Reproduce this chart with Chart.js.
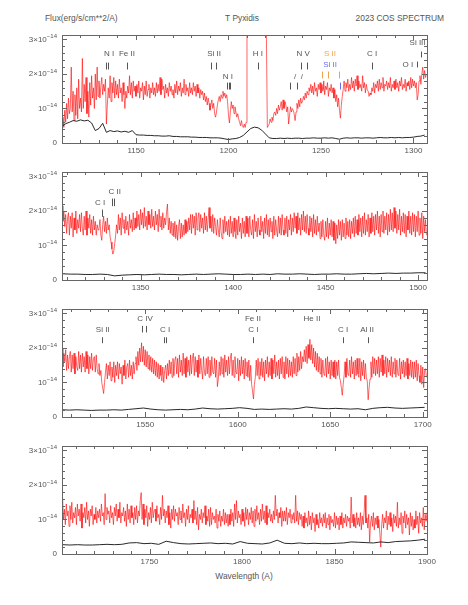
<!DOCTYPE html>
<html lang="en">
<head>
<meta charset="UTF-8">
<title>T Pyxidis</title>
<script src="https://cdn.jsdelivr.net/npm/chart.js"></script>
<style>
    body { margin: 0; background: #fff; }
    #wrap { position: relative; width: 468px; height: 605px; font-family: "Liberation Sans", Arial, sans-serif; color: #555; font-size: 8.4px; }
    .t { position: absolute; white-space: nowrap; line-height: 10px; }
    canvas { position: absolute; left: 0; }
</style>
</head>
<body>
<div id="wrap">
    <div class="t" style="left:45px;top:13px">Flux(erg/s/cm**2/A)</div>
    <div class="t" style="left:242px;top:13px;transform:translateX(-50%)">T Pyxidis</div>
    <div class="t" style="right:24px;top:13px">2023 COS SPECTRUM</div>
    <div class="t" style="left:244px;top:571px;transform:translateX(-50%)">Wavelength (A)</div>
    <canvas id="c0" width="468" height="133" style="top:30px"></canvas>
    <canvas id="c1" width="468" height="133" style="top:167px"></canvas>
    <canvas id="c2" width="468" height="133" style="top:304px"></canvas>
    <canvas id="c3" width="468" height="133" style="top:441px"></canvas>
</div>
<script>
// wavelength range of each panel (A)
var panelMin = [1110, 1307.5, 1505, 1702.7];
var panelMax = [1307.3, 1504.8, 1702.3, 1900];

// flux in units of 1e-14 erg/s/cm2/A, sampled every 0.5 A (one row = 10 A)
var fluxStart = [1110, 1307.5, 1505, 1703];
var fluxStep = 0.5;
var flux1 = [
    0.5,0.75,0.45,0.95,0.6,1.15,0.7,1.3,0.85,1.0,2.2,0.9,1.5,0.65,1.4,0.8,1.6,0.7,1.85,1.0,
    1.3,0.9,2.45,1.0,1.7,1.2,1.9,0.85,1.5,0.75,1.75,1.1,1.95,1.3,1.6,1.0,2.0,1.25,2.2,1.35,
    1.8,1.3,1.65,1.9,1.4,1.7,1.5,1.85,0.55,1.1,1.6,1.3,1.95,1.2,1.75,1.45,1.9,1.3,1.8,1.4,
    1.7,1.3,1.85,1.45,1.6,1.2,1.75,1.4,1.0,1.5,1.3,1.65,1.45,1.95,1.4,1.75,1.3,1.8,1.5,1.65,
    1.35,1.7,1.45,1.8,1.3,1.6,1.5,1.75,1.25,1.65,1.4,1.8,1.35,1.55,1.7,1.3,1.6,1.45,1.75,1.4,
    1.6,1.35,1.75,1.45,1.7,1.5,1.9,1.4,1.85,1.55,1.65,1.3,1.7,1.45,1.6,1.35,1.75,1.5,1.65,1.4,
    1.55,1.3,1.7,1.45,1.8,1.4,1.65,1.5,1.75,1.35,1.6,1.45,1.85,1.4,1.7,1.5,1.6,1.35,1.75,1.45,
    1.6,1.4,1.75,1.5,1.65,1.35,1.7,1.45,1.6,1.3,1.55,1.4,1.5,1.25,1.45,1.2,1.35,1.1,1.3,1.15,
    0.95,1.1,1.25,1.0,1.15,0.85,0.75,0.9,1.1,1.25,1.35,1.2,1.4,1.3,1.5,1.35,1.45,1.3,1.4,1.2,
    0.8,0.58,0.9,1.2,1.0,1.1,0.85,1.05,0.9,0.75,0.85,0.7,0.6,0.5,0.65,0.5,0.45,0.55,0.45,0.6,
    3.5,9,9,9,9,9,9,9,9,9,9,9,9,9,9,9,9,9,9,9,
    5,3,0.45,0.5,0.55,0.7,0.6,0.75,0.65,0.85,0.9,0.8,1.0,0.85,1.1,0.95,1.05,1.2,0.95,1.25,
    1.0,1.2,1.1,0.9,1.05,0.55,0.8,1.05,0.9,1.0,0.95,0.85,0.65,0.9,1.15,1.0,1.25,1.05,1.3,1.15,
    1.2,1.35,1.25,1.45,1.3,1.5,1.4,1.6,1.5,1.7,1.45,1.65,1.4,1.75,1.5,1.6,1.35,1.7,1.55,1.75,
    1.45,1.7,1.5,1.8,1.4,1.65,1.55,1.75,1.35,1.6,1.5,1.7,1.45,1.6,1.3,1.55,1.2,1.4,1.05,1.3,
    0.95,0.72,1.1,1.35,1.55,1.8,1.5,1.75,1.6,1.85,1.5,1.7,1.55,1.9,1.6,1.8,1.5,1.85,1.65,1.95,
    1.55,1.8,1.6,1.7,1.5,1.95,1.6,1.75,1.45,1.7,1.55,1.5,1.35,1.45,1.4,1.6,1.5,1.75,1.45,1.7,
    1.6,1.8,1.5,1.85,1.55,1.75,1.6,1.9,1.5,1.7,1.65,1.8,1.55,1.75,1.6,1.9,1.5,1.7,1.6,1.8,
    1.55,1.85,1.6,1.75,1.5,1.8,1.65,1.9,1.55,1.7,1.6,1.85,1.5,1.75,1.65,1.8,1.55,1.9,1.6,1.85,
    1.65,1.8,1.6,1.75,1.25,1.4,1.8,1.95,1.7,2.0,2.2,1.85,2.1,1.9,2.0
];
var flux2 = [
    2.15,1.7,2.0,1.55,1.9,1.35,1.8,1.95,1.3,1.85,1.5,1.95,1.25,1.8,1.45,2.0,1.35,1.75,1.5,1.9,
    1.4,1.95,1.5,1.3,1.85,1.45,2.0,1.3,1.8,1.5,1.9,1.35,1.75,1.3,1.85,1.45,1.7,1.3,1.6,1.45,
    1.5,1.75,1.3,1.15,1.6,1.85,1.4,1.7,1.35,1.8,1.45,1.6,1.25,1.1,0.9,0.75,0.85,1.05,1.3,1.6,
    1.35,1.9,1.45,1.8,1.3,1.95,1.5,1.75,1.35,1.85,1.45,1.7,1.3,1.9,1.5,1.75,1.4,1.95,1.45,1.8,
    1.5,2.0,1.55,1.9,1.45,2.05,1.6,1.95,1.5,2.1,1.55,1.85,1.45,2.0,1.6,1.9,1.5,2.05,1.55,1.85,
    1.45,2.0,1.6,1.9,1.4,2.05,1.55,1.85,1.45,1.95,1.5,1.8,1.6,1.95,2.2,1.45,1.8,1.35,1.7,1.3,
    1.65,1.25,1.7,1.2,1.6,1.15,1.55,1.75,1.2,1.65,1.25,1.6,1.3,1.75,1.35,1.7,1.4,1.8,1.45,1.9,
    1.35,1.9,1.5,1.85,1.3,1.95,1.45,1.8,1.95,1.4,1.9,1.5,1.8,1.35,1.95,1.45,1.85,1.4,1.75,2.1,
    1.5,1.85,1.4,1.9,1.35,1.8,1.55,1.3,1.75,1.45,1.25,1.8,1.4,1.2,1.75,1.35,1.85,1.4,1.7,1.3,
    1.75,1.25,1.85,1.35,1.7,1.25,1.8,1.4,1.2,1.75,1.3,1.85,1.4,1.65,1.2,1.8,1.35,1.7,1.25,1.85,
    1.35,1.8,1.25,1.85,1.45,1.3,1.75,1.2,1.9,1.4,1.7,1.25,1.8,1.45,1.3,1.85,1.4,1.7,1.2,1.8,
    1.35,1.9,1.3,1.75,1.25,1.8,1.4,1.7,1.2,1.85,1.3,1.75,1.45,1.25,1.85,1.35,1.8,1.3,1.9,1.45,
    1.3,1.8,1.35,1.85,1.25,1.75,1.45,1.9,1.3,1.8,1.4,1.95,1.5,1.85,1.35,1.95,1.45,1.8,1.3,1.9,
    1.45,2.0,1.4,1.85,1.35,1.9,1.5,1.3,1.85,1.4,1.8,1.25,1.9,1.35,1.75,1.3,1.85,1.4,1.65,1.2,
    1.7,1.25,1.75,1.3,1.15,1.7,1.25,1.8,1.2,1.65,1.3,1.75,1.25,1.7,1.15,1.65,1.05,1.6,1.2,1.75,
    1.3,1.7,1.15,1.75,1.25,1.65,1.2,1.8,1.3,1.7,1.25,1.75,1.2,1.7,1.35,1.8,1.25,1.85,1.35,1.75,
    1.3,1.9,1.4,1.8,1.25,1.85,1.35,1.95,1.3,1.75,1.4,1.9,1.25,1.8,1.35,1.95,1.4,1.85,1.3,1.9,
    1.45,2.0,1.35,1.85,1.25,1.9,1.4,2.0,1.35,1.85,1.45,1.95,1.3,1.9,1.4,2.05,1.45,1.95,1.4,2.1,
    1.5,2.0,1.35,1.9,1.45,2.05,1.3,1.85,1.4,1.95,1.35,1.9,1.25,1.85,1.45,2.0,1.35,1.85,1.3,1.95,
    1.4,1.9,1.25,1.85,1.4,2.0,1.3,1.8,1.35,1.95,1.2,1.85,1.4,1.75,1.3
];
var flux3 = [
    2.0,1.45,1.85,1.6,1.95,1.35,1.8,1.4,1.75,1.9,1.3,1.8,1.4,1.85,1.25,1.75,1.45,1.35,1.9,1.4,
    1.8,1.3,1.85,1.45,1.75,1.3,1.9,1.4,1.8,1.25,1.75,1.4,1.85,1.35,1.7,1.75,1.3,1.8,1.4,1.25,
    1.55,1.2,1.35,1.0,0.85,0.68,1.0,1.3,1.55,1.1,1.5,1.2,1.6,1.05,1.45,1.15,1.6,1.0,1.5,1.2,
    1.6,1.1,1.55,1.25,1.45,0.95,1.5,1.2,1.65,1.1,1.45,1.55,1.15,1.65,1.2,1.5,1.1,1.6,1.25,1.55,
    1.75,1.35,1.9,1.5,2.0,1.6,2.15,1.6,2.05,1.5,1.95,1.45,1.9,1.4,1.8,1.35,1.75,1.3,1.7,1.25,
    1.65,1.2,1.6,1.15,1.55,1.1,1.5,1.2,1.05,1.45,1.0,1.35,1.5,1.1,1.55,1.2,1.65,1.25,1.6,1.15,
    1.7,1.2,1.65,1.75,1.25,1.7,1.15,1.8,1.3,1.65,1.2,1.85,1.25,1.7,1.15,1.75,1.3,1.65,1.2,1.8,
    1.25,1.7,1.85,1.2,1.75,1.3,1.65,1.15,1.8,1.25,1.7,1.35,1.1,1.75,1.3,1.2,1.7,1.25,1.75,1.15,
    1.65,1.2,1.75,1.3,1.25,1.7,1.15,1.65,0.88,1.1,1.6,1.2,1.75,1.25,1.7,1.15,1.8,1.3,1.65,1.2,
    1.75,1.25,1.7,1.85,1.2,1.65,1.15,1.75,1.3,1.25,1.7,1.05,1.65,1.2,1.75,1.25,1.65,1.1,1.7,1.2,
    1.6,1.15,1.65,1.05,1.5,0.95,0.75,0.52,0.95,1.15,1.65,1.2,1.7,1.1,1.6,1.2,1.7,1.15,1.6,1.05,
    1.65,1.25,1.75,1.15,1.6,1.2,1.7,1.1,1.65,1.25,1.8,1.15,1.6,1.2,1.65,1.1,1.7,1.25,1.75,1.15,
    1.6,1.1,1.75,1.25,1.7,1.15,1.65,1.2,1.6,1.15,1.75,1.25,1.7,1.2,1.85,1.3,1.75,1.35,1.9,1.4,
    1.75,1.6,1.95,1.6,2.05,1.55,2.1,1.7,2.25,1.65,2.1,1.55,2.0,1.45,1.9,1.35,1.85,1.3,1.75,1.25,
    1.7,1.15,1.65,1.25,1.2,1.7,1.15,1.75,1.25,1.6,1.1,1.65,1.2,1.6,1.15,1.65,1.1,1.6,1.2,1.65,
    1.15,1.05,0.85,0.63,0.95,1.2,1.6,1.15,1.7,1.25,1.2,1.65,1.15,1.75,1.25,1.6,1.1,1.65,1.2,1.7,
    1.25,1.15,1.7,1.05,1.6,1.2,1.65,1.1,1.55,1.15,1.05,0.5,0.85,1.1,1.6,1.15,1.75,1.25,1.7,1.2,
    1.65,1.25,1.75,1.15,1.7,1.3,1.8,1.2,1.65,1.25,1.75,1.15,1.7,1.3,1.65,1.2,1.75,1.15,1.6,1.25,
    1.7,1.15,1.65,1.25,1.2,1.7,1.1,1.6,1.25,1.65,1.15,1.6,1.2,1.7,1.1,1.55,1.2,1.65,1.15,1.6,
    1.1,1.6,1.15,1.65,1.05,1.55,1.2,1.0,1.5,0.95,1.45,0.85,1.35,1.4,1.15
];
var flux4 = [
    1.65,1.0,1.3,0.85,1.45,1.1,1.25,0.8,1.4,1.0,1.5,0.9,1.2,1.05,1.35,0.85,1.45,1.1,1.3,0.95,
    1.45,0.75,1.2,1.05,1.35,0.9,1.5,1.0,1.25,0.8,1.3,1.1,1.4,0.85,1.15,1.0,1.35,0.9,1.25,1.05,
    1.3,0.95,1.45,1.1,1.2,0.85,1.75,1.0,1.35,1.15,1.25,0.9,1.4,1.05,1.2,0.85,1.35,1.1,1.45,0.95,
    1.3,1.05,1.5,0.9,1.2,1.1,1.35,0.95,1.25,0.8,1.45,1.0,1.3,0.9,1.4,1.05,1.2,0.85,1.35,1.0,
    1.4,0.9,1.25,1.1,1.55,1.78,1.0,1.45,0.85,1.3,1.05,1.4,0.8,1.2,1.0,1.35,0.9,1.5,1.05,1.25,
    1.3,0.95,1.4,1.05,1.15,0.85,1.35,1.0,1.7,1.1,1.3,0.9,1.25,1.05,1.4,0.85,1.2,0.75,1.3,1.0,
    1.4,0.95,1.3,1.1,1.2,0.85,1.35,1.0,1.25,0.9,1.45,1.05,1.2,0.8,1.3,1.0,1.4,0.9,1.15,1.05,
    1.3,0.9,1.55,1.0,1.25,0.85,1.35,0.7,1.15,1.0,1.3,0.9,1.2,1.05,1.4,0.85,1.1,0.95,1.3,0.8,
    1.35,0.85,1.2,1.0,1.1,0.9,1.3,0.75,1.15,0.95,1.25,0.8,1.1,0.95,1.3,0.85,1.2,0.9,1.15,0.8,
    1.15,0.85,1.3,0.95,1.2,0.8,1.45,1.0,1.55,0.9,1.25,1.05,1.15,0.85,1.3,0.95,1.2,0.8,1.35,1.0,
    1.3,0.85,1.2,1.0,1.35,0.9,1.25,0.8,1.3,0.95,1.4,1.0,1.2,0.85,1.3,0.95,1.45,1.0,1.25,0.9,
    1.4,0.85,1.2,1.05,1.3,0.95,1.15,0.9,1.25,1.0,1.7,1.1,1.3,0.9,1.2,1.05,1.35,0.8,1.25,0.95,
    1.25,0.95,1.35,0.85,1.2,1.05,1.3,0.9,1.15,1.0,1.2,0.9,1.7,0.95,1.25,0.85,1.2,1.0,1.15,0.8,
    1.1,0.75,1.2,0.9,1.05,0.8,1.25,0.85,1.1,0.7,1.2,0.9,1.05,0.65,1.15,0.85,1.0,0.75,1.2,0.9,
    1.05,0.8,1.15,0.9,1.2,0.75,1.05,0.85,1.15,0.7,1.1,0.9,1.0,0.8,1.2,0.75,1.1,0.85,1.05,0.7,
    1.1,0.85,1.2,0.75,1.05,0.9,1.15,0.8,1.1,0.95,1.05,0.75,1.65,0.9,1.15,0.8,1.05,0.75,1.2,0.85,
    1.05,0.8,1.2,0.7,1.1,0.85,1.2,1.7,0.9,1.05,0.75,1.15,0.35,0.9,1.1,0.8,1.2,0.7,1.05,0.85,
    1.1,0.75,1.0,0.6,0.2,0.85,1.15,0.75,1.05,0.9,1.25,0.7,1.1,0.85,1.2,0.8,1.05,0.65,1.15,0.9,
    1.1,0.8,1.5,0.75,1.05,0.85,1.2,0.6,1.1,0.9,1.25,0.75,1.15,0.85,1.05,0.55,1.2,0.8,1.1,0.7,
    1.0,0.75,1.25,0.85,1.1,0.6,1.2,0.9,1.05,0.8,1.35,0.7,1.15,0.95,1.2
];

// error spectrum (black), same units
var errStart = [1110, 1308, 1505, 1703];
var errStep = [2, 4, 4, 4];
var err1 = [
    0.48, 0.56, 0.6, 0.65, 0.63, 0.67, 0.64, 0.66, 0.58, 0.36,
    0.42, 0.57, 0.31, 0.36, 0.33, 0.35, 0.32, 0.34, 0.31, 0.36,
    0.24, 0.23, 0.23, 0.22, 0.22, 0.21, 0.21, 0.2, 0.2, 0.21,
    0.19, 0.19, 0.18, 0.18, 0.18, 0.17, 0.17, 0.16, 0.16, 0.16,
    0.15, 0.15, 0.15, 0.14, 0.12, 0.1, 0.12, 0.13, 0.16, 0.22,
    0.32, 0.42, 0.46, 0.44, 0.37, 0.26, 0.15, 0.13, 0.13, 0.14,
    0.13, 0.14, 0.13, 0.14, 0.14, 0.13, 0.14, 0.14, 0.15, 0.14,
    0.14, 0.15, 0.14, 0.15, 0.13, 0.11, 0.14, 0.15, 0.14, 0.15,
    0.15, 0.14, 0.15, 0.15, 0.14, 0.15, 0.16, 0.15, 0.15, 0.16,
    0.15, 0.16, 0.15, 0.16, 0.16, 0.17, 0.19, 0.2, 0.23
];
var err2 = [
    0.18, 0.17, 0.17, 0.16, 0.16, 0.17, 0.16, 0.12, 0.14, 0.15,
    0.16, 0.15, 0.16, 0.17, 0.16, 0.16, 0.15, 0.16, 0.17, 0.16,
    0.17, 0.18, 0.17, 0.16, 0.16, 0.17, 0.16, 0.17, 0.16, 0.18,
    0.17, 0.17, 0.18, 0.17, 0.16, 0.17, 0.17, 0.18, 0.17, 0.17,
    0.18, 0.19, 0.18, 0.19, 0.2, 0.19, 0.2, 0.2, 0.21, 0.21
];
var err3 = [
    0.21, 0.2, 0.21, 0.2, 0.19, 0.2, 0.2, 0.21, 0.2, 0.22,
    0.24, 0.26, 0.23, 0.21, 0.2, 0.21, 0.22, 0.21, 0.23, 0.26,
    0.24, 0.23, 0.24, 0.25, 0.27, 0.25, 0.22, 0.23, 0.22, 0.23,
    0.24, 0.23, 0.25, 0.29, 0.27, 0.25, 0.24, 0.25, 0.24, 0.23,
    0.24, 0.21, 0.25, 0.27, 0.28, 0.26, 0.25, 0.26, 0.27, 0.28
];
var err4 = [
    0.27, 0.26, 0.27, 0.26, 0.26, 0.27, 0.28, 0.27, 0.28, 0.32,
    0.33, 0.3, 0.31, 0.28, 0.37, 0.33, 0.3, 0.29, 0.3, 0.31,
    0.32, 0.3, 0.31, 0.29, 0.36, 0.31, 0.3, 0.29, 0.32, 0.4,
    0.31, 0.3, 0.32, 0.3, 0.31, 0.3, 0.3, 0.31, 0.32, 0.35,
    0.34, 0.33, 0.32, 0.35, 0.33, 0.36, 0.37, 0.38, 0.4, 0.43
];

var fluxes = [flux1, flux2, flux3, flux4];
var errs = [err1, err2, err3, err4];

// line identifications: panel, text, wavelength, level, colour
var lineIds = [
    [0, 'N I', 1135.4, 2.59, '#555'],
    [0, 'Fe II', 1145.1, 2.59, '#555'],
    [0, 'Si II', 1192.2, 2.59, '#555'],
    [0, 'N I', 1199.7, 1.93, '#555'],
    [0, 'H I', 1215.9, 2.59, '#555'],
    [0, 'N V', 1240.3, 2.59, '#555'],
    [0, '/', 1236.0, 1.93, '#555'],
    [0, '/', 1239.6, 1.93, '#555'],
    [0, 'S II', 1254.9, 2.59, '#f2a24a'],
    [0, 'Si II', 1254.9, 2.27, '#6b6bf2'],
    [0, 'C I', 1277.6, 2.59, '#555'],
    [0, 'O I', 1297.0, 2.27, '#555'],
    [0, 'Si III', 1302.2, 2.89, '#555'],
    [1, 'C I', 1328.1, 2.25, '#555'],
    [1, 'C II', 1336.0, 2.57, '#555'],
    [2, 'Si II', 1527.0, 2.54, '#555'],
    [2, 'C IV', 1549.9, 2.86, '#555'],
    [2, 'C I', 1560.7, 2.54, '#555'],
    [2, 'Fe II', 1608.2, 2.86, '#555'],
    [2, 'C I', 1608.5, 2.54, '#555'],
    [2, 'He II', 1640.1, 2.86, '#555'],
    [2, 'C I', 1656.9, 2.54, '#555'],
    [2, 'Al II', 1669.9, 2.54, '#555']
];
// tick marks under the ids: panel, wavelength, from, to, colour
var lineMarks = [
    [0, 1133.8, 2.33, 2.13, '#555'], [0, 1135.0, 2.33, 2.13, '#555'],
    [0, 1145.0, 2.33, 2.13, '#555'],
    [0, 1190.4, 2.33, 2.13, '#555'], [0, 1193.2, 2.33, 2.13, '#555'],
    [0, 1199.4, 1.75, 1.55, '#555'], [0, 1200.1, 1.75, 1.55, '#555'], [0, 1200.8, 1.75, 1.55, '#555'],
    [0, 1216.1, 2.33, 2.13, '#555'],
    [0, 1239.0, 2.33, 2.13, '#555'], [0, 1242.5, 2.33, 2.13, '#555'],
    [0, 1233.0, 1.75, 1.55, '#555'], [0, 1236.9, 1.75, 1.55, '#555'],
    [0, 1250.4, 2.07, 1.87, '#f2a24a'], [0, 1253.9, 2.07, 1.87, '#f2a24a'], [0, 1259.7, 2.07, 1.87, '#f2a24a'],
    [0, 1250.9, 1.75, 1.55, '#6b6bf2'], [0, 1260.3, 1.75, 1.55, '#6b6bf2'],
    [0, 1277.4, 2.33, 2.13, '#555'],
    [0, 1302.1, 2.36, 2.19, '#555'],
    [0, 1304.1, 2.65, 2.48, '#555'],
    [1, 1329.3, 2.04, 1.83, '#555'],
    [1, 1334.4, 2.36, 2.14, '#555'], [1, 1335.8, 2.36, 2.14, '#555'],
    [2, 1526.6, 2.31, 2.14, '#555'],
    [2, 1548.2, 2.64, 2.45, '#555'], [2, 1550.2, 2.64, 2.45, '#555'],
    [2, 1560.1, 2.31, 2.14, '#555'], [2, 1561.2, 2.31, 2.14, '#555'],
    [2, 1608.4, 2.31, 2.14, '#555'],
    [2, 1657.0, 2.31, 2.14, '#555'],
    [2, 1670.6, 2.31, 2.14, '#555']
];

var yMax = 3.13;
var fontFam = '"Liberation Sans", Arial, sans-serif';
var axisColor = '#666';
var textColor = '#555';

function points(vals, start, step) {
    var out = [];
    for (var i = 0; i < vals.length; i++) out.push({x: start + i * step, y: vals[i]});
    return out;
}

function drawYLabel(ctx, v, xr, py) {
    ctx.fillStyle = textColor;
    ctx.textAlign = 'right';
    ctx.textBaseline = 'middle';
    if (v === 0) {
        ctx.font = '8px ' + fontFam;
        ctx.fillText('0', xr, py);
        return;
    }
    var sup = '\u221214';
    ctx.font = '6px ' + fontFam;
    var ws = ctx.measureText(sup).width;
    ctx.fillText(sup, xr, py - 3);
    ctx.font = '8px ' + fontFam;
    ctx.fillText((v === 1 ? '' : v + '\u00d7') + '10', xr - ws, py);
}

var framePlugin = {
    id: 'frame',
    afterDatasetsDraw: function (chart) {
        var ctx = chart.ctx, x = chart.scales.x, y = chart.scales.y;
        var p = chart.options.plugins.frame.panel;
        ctx.save();
        ctx.font = '8px ' + fontFam;
        ctx.textAlign = 'center';
        ctx.textBaseline = 'middle';
        lineIds.forEach(function (l) {
            if (l[0] !== p) return;
            ctx.fillStyle = l[4];
            ctx.fillText(l[1], x.getPixelForValue(l[2]), y.getPixelForValue(l[3]));
        });
        ctx.lineWidth = 1;
        lineMarks.forEach(function (m) {
            if (m[0] !== p) return;
            var px = Math.round(x.getPixelForValue(m[1])) + 0.5;
            ctx.strokeStyle = m[4];
            ctx.beginPath();
            ctx.moveTo(px, y.getPixelForValue(m[2]));
            ctx.lineTo(px, y.getPixelForValue(m[3]));
            ctx.stroke();
        });
        ctx.restore();
    },
    afterDraw: function (chart) {
        var ctx = chart.ctx, a = chart.chartArea, x = chart.scales.x, y = chart.scales.y;
        ctx.save();
        ctx.strokeStyle = axisColor;
        ctx.lineWidth = 1;
        ctx.strokeRect(Math.round(a.left) + 0.5, Math.round(a.top) + 0.5,
            Math.round(a.right - a.left), Math.round(a.bottom - a.top));
        ctx.beginPath();
        for (var w = Math.ceil(x.min / 10) * 10; w <= x.max; w += 10) {
            var px = Math.round(x.getPixelForValue(w)) + 0.5;
            var len = (w % 50 === 0) ? 5 : 3;
            ctx.moveTo(px, a.bottom); ctx.lineTo(px, a.bottom - len);
            ctx.moveTo(px, a.top); ctx.lineTo(px, a.top + len);
        }
        for (var i = 0; i * 0.2 <= y.max + 1e-9; i++) {
            var py = Math.round(y.getPixelForValue(i * 0.2)) + 0.5;
            var ylen = (i % 5 === 0) ? 5 : 3;
            ctx.moveTo(a.left, py); ctx.lineTo(a.left + ylen, py);
            ctx.moveTo(a.right, py); ctx.lineTo(a.right - ylen, py);
        }
        ctx.stroke();
        for (var v = 0; v <= Math.floor(y.max); v++) {
            drawYLabel(ctx, v, a.left - 5, y.getPixelForValue(v));
        }
        ctx.restore();
    }
};

for (var p = 0; p < 4; p++) {
    new Chart(document.getElementById('c' + p), {
        type: 'line',
        data: {
            datasets: [{
                data: points(errs[p], errStart[p], errStep[p]),
                borderColor: '#111',
                borderWidth: 0.9,
                pointRadius: 0,
                tension: 0
            }, {
                data: points(fluxes[p], fluxStart[p], fluxStep),
                borderColor: 'rgb(255,0,0)',
                borderWidth: 0.6,
                pointRadius: 0,
                tension: 0
            }]
        },
        options: {
            responsive: false,
            animation: false,
            events: [],
            layout: { padding: { left: 0, right: 41, top: 5, bottom: 0 } },
            plugins: { legend: { display: false }, tooltip: { enabled: false }, frame: { panel: p } },
            scales: {
                x: {
                    type: 'linear',
                    min: panelMin[p],
                    max: panelMax[p],
                    grid: { display: false, drawTicks: false },
                    border: { display: false },
                    ticks: {
                        stepSize: 50,
                        includeBounds: false,
                        autoSkip: false,
                        maxRotation: 0,
                        padding: 3,
                        color: textColor,
                        font: { size: 8, family: fontFam },
                        callback: function (v) { return String(v); }
                    },
                    afterFit: function (s) { s.height = 20; }
                },
                y: {
                    min: 0,
                    max: yMax,
                    grid: { display: false, drawTicks: false },
                    border: { display: false },
                    ticks: { display: false, stepSize: 1 },
                    afterFit: function (s) { s.width = 62; }
                }
            }
        },
        plugins: [framePlugin]
    });
}
</script>
</body>
</html>
